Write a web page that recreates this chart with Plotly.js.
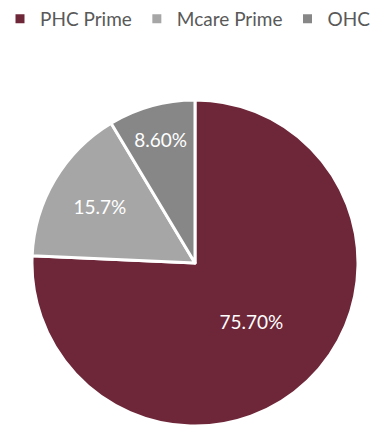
<!DOCTYPE html>
<html>
<head>
<meta charset="utf-8">
<script src="https://cdn.plot.ly/plotly-3.0.1.min.js"></script>
<style>html,body{margin:0;padding:0;background:#fff;}#chart{width:391px;height:427px;}</style>
</head>
<body>
<div id="chart"></div>
<script>
const categories = ["PHC Prime", "Mcare Prime", "OHC"];
const values = [75.7, 15.7, 8.6];
const valueLabels = ["75.70%", "15.7%", "8.60%"];
const colors = ["#6E2639", "#A6A6A6", "#878787"];

const data = [{
  type: "pie",
  labels: categories,
  values: values,
  text: valueLabels,
  textinfo: "text",
  textposition: "inside",
  insidetextorientation: "horizontal",
  sort: false,
  direction: "clockwise",
  rotation: 0,
  marker: {colors: colors, line: {color: "#ffffff", width: 3}},
  textfont: {color: "#ffffff", size: 19, family: "Lato, sans-serif"},
  domain: {x: [0.0818, 0.9156], y: [0.0023, 0.7658]},
  hoverinfo: "none"
}];

const layout = {
  width: 391, height: 427,
  margin: {l: 0, r: 0, t: 0, b: 0},
  paper_bgcolor: "#ffffff",
  showlegend: true,
  legend: {
    orientation: "h", x: 0, y: 1.0, xanchor: "left", yanchor: "top",
    font: {family: "Lato, sans-serif", size: 19, color: "#595959"},
    traceorder: "normal"
  }
};

Plotly.newPlot("chart", data, layout, {displayModeBar: false, staticPlot: true});
</script>
</body>
</html>
